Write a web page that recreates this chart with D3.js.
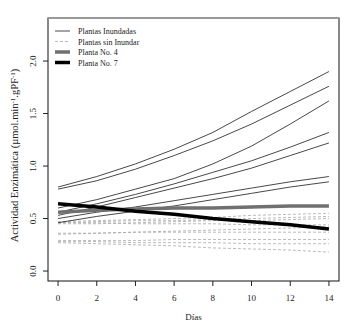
<!DOCTYPE html>
<html>
<head>
<meta charset="utf-8">
<script src="https://cdn.jsdelivr.net/npm/d3@7"></script>
<style>
  body { margin: 0; background: #fff; }
  text { font-family: "Liberation Serif", "DejaVu Serif", serif; fill: #222; }
</style>
</head>
<body>
<div id="chart"></div>
<script>
const width = 344;
const height = 328;

const days = [0, 2, 4, 6, 8, 10, 12, 14];
const xTicks = [0, 2, 4, 6, 8, 10, 12, 14];
const yTicks = [0, 0.5, 1, 1.5, 2];

// Plantas inundadas
const inundadas = [
    [0.80, 0.90, 1.02, 1.16, 1.32, 1.52, 1.71, 1.90],
    [0.78, 0.86, 0.97, 1.10, 1.24, 1.40, 1.58, 1.76],
    [0.60, 0.68, 0.78, 0.88, 1.02, 1.19, 1.40, 1.62],
    [0.56, 0.64, 0.73, 0.83, 0.94, 1.05, 1.18, 1.32],
    [0.53, 0.61, 0.70, 0.79, 0.88, 0.98, 1.10, 1.22],
    [0.50, 0.56, 0.61, 0.67, 0.73, 0.79, 0.85, 0.90],
    [0.46, 0.52, 0.57, 0.62, 0.68, 0.74, 0.80, 0.85]
];

// Plantas sin inundar
const sinInundar = [
    [0.47, 0.48, 0.49, 0.50, 0.51, 0.53, 0.54, 0.55],
    [0.46, 0.47, 0.48, 0.48, 0.49, 0.50, 0.51, 0.52],
    [0.45, 0.45, 0.46, 0.47, 0.48, 0.48, 0.49, 0.50],
    [0.46, 0.46, 0.45, 0.45, 0.45, 0.44, 0.44, 0.44],
    [0.35, 0.36, 0.37, 0.38, 0.39, 0.40, 0.41, 0.42],
    [0.36, 0.36, 0.37, 0.37, 0.37, 0.37, 0.37, 0.37],
    [0.29, 0.29, 0.29, 0.30, 0.30, 0.30, 0.30, 0.30],
    [0.28, 0.28, 0.27, 0.27, 0.27, 0.26, 0.26, 0.26],
    [0.27, 0.26, 0.25, 0.24, 0.22, 0.21, 0.20, 0.18]
];

const planta4 = [0.56, 0.58, 0.59, 0.60, 0.60, 0.61, 0.62, 0.62];
const planta7 = [0.64, 0.61, 0.57, 0.54, 0.50, 0.47, 0.44, 0.40];

const legendLabels = ['Plantas Inundadas', 'Plantas sin Inundar', 'Planta No. 4', 'Planta No. 7'];

const box = { left: 48, right: 339, top: 18, bottom: 281 };

const x = d3.scaleLinear().domain([-0.52, 14.52]).range([box.left, box.right]);
const y = d3.scaleLinear().domain([-0.095, 2.41]).range([box.bottom, box.top]);

const svg = d3.select('#chart').append('svg')
    .attr('width', width)
    .attr('height', height);

const line = d3.line()
    .x((d, i) => x(days[i]))
    .y(d => y(d));

// sin inundar (dashed gray)
svg.append('g').selectAll('path')
    .data(sinInundar)
    .enter()
    .append('path')
    .attr('d', line)
    .attr('fill', 'none')
    .attr('stroke', '#a8a8a8')
    .attr('stroke-width', 0.8)
    .attr('stroke-dasharray', '3,2');

// inundadas (thin black)
svg.append('g').selectAll('path')
    .data(inundadas)
    .enter()
    .append('path')
    .attr('d', line)
    .attr('fill', 'none')
    .attr('stroke', '#333')
    .attr('stroke-width', 0.9);

svg.append('path')
    .attr('d', line(planta4))
    .attr('fill', 'none')
    .attr('stroke', '#707070')
    .attr('stroke-width', 3.5);

svg.append('path')
    .attr('d', line(planta7))
    .attr('fill', 'none')
    .attr('stroke', '#000')
    .attr('stroke-width', 3.5);

// box
svg.append('rect')
    .attr('x', box.left)
    .attr('y', box.top)
    .attr('width', box.right - box.left)
    .attr('height', box.bottom - box.top)
    .attr('fill', 'none')
    .attr('stroke', '#111')
    .attr('stroke-width', 1);

svg.append('line')
    .attr('x1', box.left).attr('x2', box.right)
    .attr('y1', box.top).attr('y2', box.top)
    .attr('stroke', '#999')
    .attr('stroke-width', 2);

// x axis
const xg = svg.append('g');
xTicks.forEach(t => {
    xg.append('line')
        .attr('x1', x(t)).attr('x2', x(t))
        .attr('y1', box.bottom).attr('y2', box.bottom + 5)
        .attr('stroke', '#222');
    xg.append('text')
        .attr('x', x(t))
        .attr('y', box.bottom + 20)
        .attr('text-anchor', 'middle')
        .style('font-size', '9px')
        .text(t);
});

// y axis
const yg = svg.append('g');
yTicks.forEach(t => {
    yg.append('line')
        .attr('x1', box.left - 5).attr('x2', box.left)
        .attr('y1', y(t)).attr('y2', y(t))
        .attr('stroke', '#222');
    yg.append('text')
        .attr('transform', `translate(36, ${y(t)}) rotate(-90)`)
        .attr('text-anchor', 'middle')
        .style('font-size', '9px')
        .text(d3.format('.1f')(t));
});

svg.append('text')
    .attr('x', (box.left + box.right) / 2)
    .attr('y', 320)
    .attr('text-anchor', 'middle')
    .style('font-size', '9px')
    .text('Días');

svg.append('text')
    .attr('transform', `translate(18, ${(box.top + box.bottom) / 2 + 6}) rotate(-90)`)
    .attr('text-anchor', 'middle')
    .style('font-size', '10.5px')
    .html('Actividad Enzimática (µmol.min<tspan dy="-3" font-size="7px">-1</tspan><tspan dy="3">.gPF</tspan><tspan dy="-3" font-size="7px">-1</tspan><tspan dy="3">)</tspan>');

// legend
const legendStyles = [
    { stroke: '#333', width: 0.9, dash: null },
    { stroke: '#a8a8a8', width: 0.8, dash: '3,2' },
    { stroke: '#707070', width: 3.5, dash: null },
    { stroke: '#000', width: 3.5, dash: null }
];

const legend = svg.append('g').attr('transform', 'translate(55, 31)');
legendLabels.forEach((label, i) => {
    const row = legend.append('g').attr('transform', `translate(0, ${i * 10.5})`);
    row.append('line')
        .attr('x1', 0).attr('x2', 15)
        .attr('stroke', legendStyles[i].stroke)
        .attr('stroke-width', legendStyles[i].width)
        .attr('stroke-dasharray', legendStyles[i].dash);
    row.append('text')
        .attr('x', 23)
        .attr('y', 3)
        .style('font-size', '8px')
        .text(label);
});
</script>
</body>
</html>
